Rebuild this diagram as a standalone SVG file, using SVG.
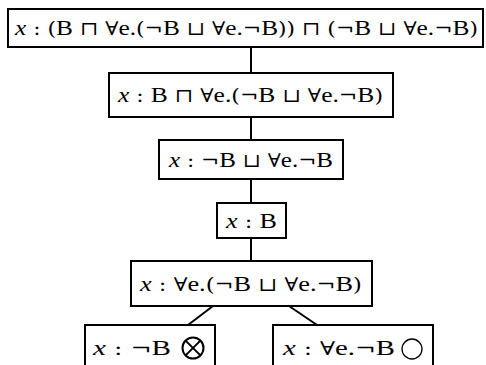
<svg xmlns="http://www.w3.org/2000/svg" width="486" height="365" viewBox="0 0 486 365">
<style>
.box{fill:#fff;stroke:#000;stroke-width:2}
.edge{stroke:#000;stroke-width:2;fill:none}
text{font-family:"Liberation Serif","DejaVu Serif",serif;font-size:22px;fill:#000}
.v{font-style:italic}
.s{font-family:"DejaVu Serif","DejaVu Sans",serif;font-size:19px}
</style>
<rect width="486" height="365" fill="#fff"/>
<g id="connectors">
<line class="edge" x1="251" y1="47" x2="251" y2="73"/>
<line class="edge" x1="251" y1="117" x2="251" y2="140"/>
<line class="edge" x1="251" y1="179" x2="251" y2="203"/>
<line class="edge" x1="251" y1="238" x2="251" y2="261"/>
<line class="edge" x1="213" y1="306" x2="188" y2="325"/>
<line class="edge" x1="289" y1="306" x2="317" y2="325"/>
</g>
<g id="n1">
<rect class="box" x="8" y="9" width="475" height="38"/>
<text x="15" y="35" textLength="463" lengthAdjust="spacingAndGlyphs"><tspan class="v">x</tspan><tspan class="s"> : (</tspan>B<tspan class="s"> ⊓ ∀</tspan>e.<tspan class="s">(¬</tspan>B<tspan class="s"> ⊔ ∀</tspan>e.<tspan class="s">¬</tspan>B<tspan class="s">)) ⊓ (¬</tspan>B<tspan class="s"> ⊔ ∀</tspan>e.<tspan class="s">¬</tspan>B<tspan class="s">)</tspan></text>
</g>
<g id="n2">
<rect class="box" x="109" y="73" width="284" height="44"/>
<text x="118" y="102" textLength="265" lengthAdjust="spacingAndGlyphs"><tspan class="v">x</tspan><tspan class="s"> : </tspan>B<tspan class="s"> ⊓ ∀</tspan>e.<tspan class="s">(¬</tspan>B<tspan class="s"> ⊔ ∀</tspan>e.<tspan class="s">¬</tspan>B<tspan class="s">)</tspan></text>
</g>
<g id="n3">
<rect class="box" x="159" y="140" width="184" height="39"/>
<text x="169" y="167" textLength="164" lengthAdjust="spacingAndGlyphs"><tspan class="v">x</tspan><tspan class="s"> : ¬</tspan>B<tspan class="s"> ⊔ ∀</tspan>e.<tspan class="s">¬</tspan>B</text>
</g>
<g id="n4">
<rect class="box" x="217" y="203" width="69" height="35"/>
<text x="226" y="228" textLength="51" lengthAdjust="spacingAndGlyphs"><tspan class="v">x</tspan><tspan class="s"> : </tspan>B</text>
</g>
<g id="n5">
<rect class="box" x="131" y="261" width="241" height="45"/>
<text x="140" y="291" textLength="222" lengthAdjust="spacingAndGlyphs"><tspan class="v">x</tspan><tspan class="s"> : ∀</tspan>e.<tspan class="s">(¬</tspan>B<tspan class="s"> ⊔ ∀</tspan>e.<tspan class="s">¬</tspan>B<tspan class="s">)</tspan></text>
</g>
<g id="n6">
<rect class="box" x="85" y="325" width="130" height="50"/>
<text x="93" y="355" textLength="78" lengthAdjust="spacingAndGlyphs"><tspan class="v">x</tspan><tspan class="s"> : ¬</tspan>B</text>
<circle cx="193" cy="348" r="10.5" fill="none" stroke="#000" stroke-width="2"/>
<path d="M185.6 340.6L200.4 355.4M200.4 340.6L185.6 355.4" stroke="#000" stroke-width="2"/>
</g>
<g id="n7">
<rect class="box" x="273" y="325" width="160" height="50"/>
<text x="283" y="355" textLength="112" lengthAdjust="spacingAndGlyphs"><tspan class="v">x</tspan><tspan class="s"> : ∀</tspan>e.<tspan class="s">¬</tspan>B</text>
<circle cx="412" cy="349" r="10" fill="none" stroke="#000" stroke-width="1.3"/>
</g>
</svg>
